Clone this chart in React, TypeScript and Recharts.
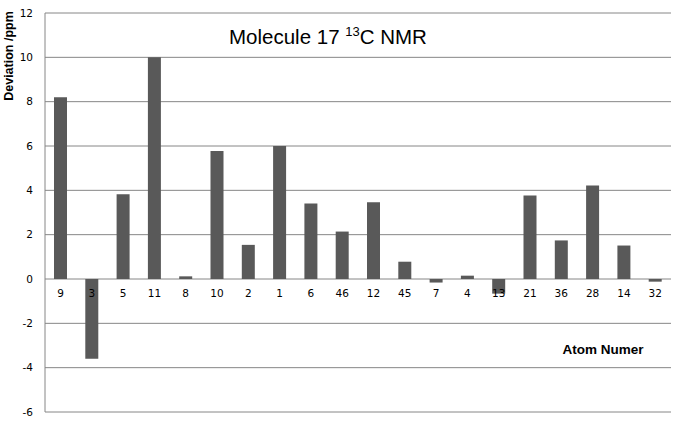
import React from 'react';
import { BarChart, Bar, XAxis, YAxis, CartesianGrid, LabelList } from 'recharts';

const atoms = ['9', '3', '5', '11', '8', '10', '2', '1', '6', '46', '12', '45', '7', '4', '13', '21', '36', '28', '14', '32'];
const deviations = [8.2, -3.6, 3.82, 10.0, 0.12, 5.77, 1.54, 6.0, 3.41, 2.14, 3.46, 0.78, -0.16, 0.15, -0.66, 3.77, 1.74, 4.22, 1.51, -0.12];
const yTicks = [-6, -4, -2, 0, 2, 4, 6, 8, 10, 12];

const data = atoms.map((a, i) => ({ atom: a, value: deviations[i] }));

const renderAtomLabel = (props: any) => {
  const { x, y, width, height, value, index } = props;
  const v = deviations[index];
  const zeroY = v >= 0 ? Math.max(y, y + height) : Math.min(y, y + height);
  return (
    <text
      x={x + width / 2}
      y={zeroY + 18}
      textAnchor="middle"
      fontFamily="DejaVu Sans"
      fontSize={10.5}
      fill="#000"
    >
      {value}
    </text>
  );
};

export default function App() {
  return (
    <div style={{ position: 'absolute', left: 0, top: 0, width: 683, height: 425, background: '#fff' }}>
      <BarChart
        width={683}
        height={425}
        data={data}
        margin={{ top: 13, right: 12, bottom: 13, left: 0 }}
        barSize={13}
      >
        <CartesianGrid vertical={false} stroke="#868686" strokeWidth={1} />
        <XAxis dataKey="atom" hide />
        <YAxis
          width={45}
          domain={[-6, 12]}
          ticks={yTicks}
          interval={0}
          tickLine={false}
          tickSize={10}
          axisLine={{ stroke: '#868686' }}
          tick={{ fontFamily: 'DejaVu Sans', fontSize: 10.5, fill: '#000' }}
        />
        <Bar dataKey="value" fill="#595959" isAnimationActive={false}>
          <LabelList dataKey="atom" content={renderAtomLabel} />
        </Bar>
      </BarChart>
      <div
        style={{
          position: 'absolute',
          left: 229,
          top: 25,
          fontFamily: 'Liberation Sans',
          fontSize: 20.5,
          color: '#000',
          whiteSpace: 'nowrap',
          lineHeight: '24px',
        }}
      >
        Molecule 17 <sup style={{ fontSize: 13, verticalAlign: 'super', lineHeight: 0 }}>13</sup>C NMR
      </div>
      <div
        style={{
          position: 'absolute',
          left: 9,
          top: 56,
          transform: 'translate(-50%, -50%) rotate(-90deg)',
          fontFamily: 'Liberation Sans',
          fontWeight: 'bold',
          fontSize: 12.5,
          whiteSpace: 'nowrap',
          color: '#000',
        }}
      >
        Deviation /ppm
      </div>
      <div
        style={{
          position: 'absolute',
          left: 603,
          top: 349,
          transform: 'translate(-50%, -50%)',
          fontFamily: 'Liberation Sans',
          fontWeight: 'bold',
          fontSize: 13.5,
          whiteSpace: 'nowrap',
          color: '#000',
        }}
      >
        Atom Numer
      </div>
    </div>
  );
}
